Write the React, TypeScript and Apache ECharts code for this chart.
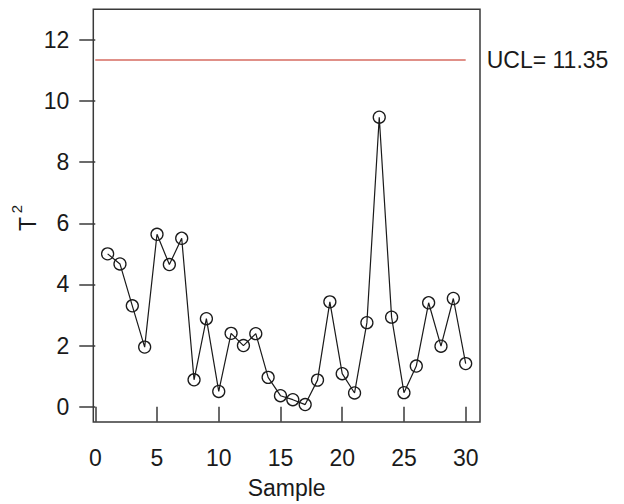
import React, { useEffect, useRef } from "react";
import * as echarts from "echarts";

const samples = [1, 2, 3, 4, 5, 6, 7, 8, 9, 10, 11, 12, 13, 14, 15, 16, 17, 18, 19, 20, 21, 22, 23, 24, 25, 26, 27, 28, 29, 30];
const t2Values = [5.0, 4.67, 3.3, 1.95, 5.64, 4.65, 5.51, 0.88, 2.88, 0.5, 2.4, 2.0, 2.39, 0.96, 0.36, 0.23, 0.07, 0.87, 3.43, 1.08, 0.45, 2.75, 9.47, 2.93, 0.46, 1.33, 3.4, 1.98, 3.54, 1.41];
const UCL = 11.35;
const uclSpan = [0, 30];
const xTicks = [0, 5, 10, 15, 20, 25, 30];
const yTicks = [0, 2, 4, 6, 8, 10, 12];
const xRange = [-0.16, 31.16];
const yRange = [-0.5, 13];

const FONT = "Liberation Sans, Arial, Helvetica, sans-serif";
const INK = "#1a1a1a";
const FRAME = "#3a3a3a";

export default function App() {
  const ref = useRef<HTMLDivElement>(null);

  useEffect(() => {
    if (!ref.current) return;
    const chart = echarts.init(ref.current, undefined, { renderer: "svg" });
    chart.setOption({
      animation: false,
      textStyle: { fontFamily: FONT, color: INK },
      grid: {
        left: 93.3,
        right: 144,
        top: 9.3,
        bottom: 77.3,
        show: true,
        borderColor: FRAME,
        borderWidth: 1.5,
        backgroundColor: "transparent",
      },
      xAxis: {
        type: "value",
        min: xRange[0],
        max: xRange[1],
        axisLine: { show: false },
        splitLine: { show: false },
        axisTick: {
          show: true,
          inside: false,
          length: 15,
          customValues: xTicks,
          lineStyle: { color: FRAME, width: 1.5 },
        },
        axisLabel: {
          customValues: xTicks,
          fontSize: 23,
          color: INK,
          fontFamily: FONT,
          margin: 24,
        },
        name: "Sample",
        nameLocation: "middle",
        nameGap: 54,
        nameTextStyle: { fontSize: 23, color: INK, fontFamily: FONT },
      },
      yAxis: {
        type: "value",
        min: yRange[0],
        max: yRange[1],
        axisLine: { show: false },
        splitLine: { show: false },
        axisTick: {
          show: true,
          inside: false,
          length: 16,
          customValues: yTicks,
          lineStyle: { color: FRAME, width: 1.5 },
        },
        axisLabel: {
          customValues: yTicks,
          fontSize: 23,
          color: INK,
          fontFamily: FONT,
          margin: 24,
        },
      },
      graphic: [
        {
          type: "text",
          x: 28,
          y: 224,
          rotation: Math.PI / 2,
          style: {
            text: "T",
            fontSize: 23,
            fontFamily: FONT,
            fill: INK,
            textAlign: "center",
            textVerticalAlign: "middle",
          },
        },
        {
          type: "text",
          x: 16,
          y: 209,
          rotation: Math.PI / 2,
          style: {
            text: "2",
            fontSize: 15,
            fontFamily: FONT,
            fill: INK,
            textAlign: "center",
            textVerticalAlign: "middle",
          },
        },
      ],
      series: [
        {
          type: "line",
          data: samples.map((s, i) => [s, t2Values[i]]),
          symbol: "circle",
          symbolSize: 12,
          clip: false,
          itemStyle: { color: "rgba(0,0,0,0)", borderColor: INK, borderWidth: 1.3 },
          lineStyle: { color: INK, width: 1.2 },
          markLine: {
            silent: true,
            symbol: ["none", "none"],
            lineStyle: { color: "#e09088", width: 2, type: "solid" },
            label: {
              show: true,
              position: "end",
              distance: 21,
              formatter: `UCL= ${UCL}`,
              fontSize: 23,
              color: INK,
              fontFamily: FONT,
            },
            data: [[{ coord: [uclSpan[0], UCL] }, { coord: [uclSpan[1], UCL] }]],
          },
        },
      ],
    });
    return () => chart.dispose();
  }, []);

  return (
    <div
      ref={ref}
      style={{ position: "absolute", left: 0, top: 0, width: 624, height: 504 }}
    />
  );
}
